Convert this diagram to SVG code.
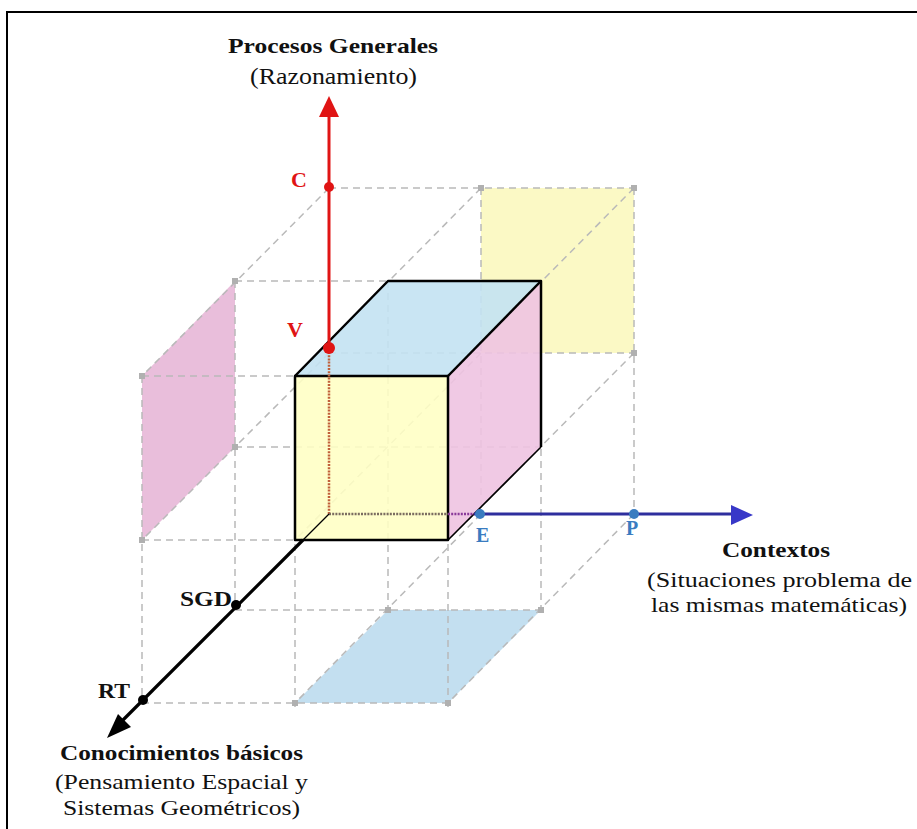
<svg xmlns="http://www.w3.org/2000/svg" width="917" height="829" viewBox="0 0 917 829">
<style>
.grid{stroke:#b9b9b9;stroke-width:1.5;stroke-dasharray:7 5;fill:none}
.corner{fill:#b0b0b0}
.edge{stroke:#000;stroke-width:2.5;fill:none;stroke-linejoin:round}
.lbl{font-family:"Liberation Serif","Times New Roman",serif;fill:#111}
.b{font-weight:bold}
.red{fill:#e01414}
.blu{fill:#3a7cc0}
</style>
<rect x="0" y="0" width="917" height="829" fill="#fff"/>
<rect x="7" y="12" width="930" height="840" fill="none" stroke="#000" stroke-width="2"/>

<g id="projections">
  <polygon id="proj-left" points="142,376 235,281 235,447 142,540" fill="#e8bbd9" fill-opacity="0.95"/>
  <polygon id="proj-back" points="481,188 634,188 634,353 481,353" fill="#fbf9c2" fill-opacity="0.95"/>
  <polygon id="proj-floor" points="295,703 388,610 541,610 448,703" fill="#bcdcee" fill-opacity="0.9"/>
</g>

<g id="grid">
  <line class="grid" x1="329" y1="188" x2="634" y2="188"/>
  <line class="grid" x1="329" y1="353" x2="634" y2="353"/>
  <line class="grid" x1="481" y1="188" x2="481" y2="514"/>
  <line class="grid" x1="634" y1="188" x2="634" y2="514"/>
  <line class="grid" x1="235" y1="281" x2="541" y2="281"/>
  <line class="grid" x1="235" y1="447" x2="541" y2="447"/>
  <line class="grid" x1="235" y1="610" x2="541" y2="610"/>
  <line class="grid" x1="235" y1="281" x2="235" y2="610"/>
  <line class="grid" x1="388" y1="281" x2="388" y2="610"/>
  <line class="grid" x1="541" y1="281" x2="541" y2="610"/>
  <line class="grid" x1="142" y1="376" x2="448" y2="376"/>
  <line class="grid" x1="142" y1="540" x2="448" y2="540"/>
  <line class="grid" x1="142" y1="703" x2="448" y2="703"/>
  <line class="grid" x1="142" y1="376" x2="142" y2="703"/>
  <line class="grid" x1="295" y1="376" x2="295" y2="712"/>
  <line class="grid" x1="448" y1="376" x2="448" y2="712"/>
  <line class="grid" x1="329" y1="188" x2="142" y2="376"/>
  <line class="grid" x1="481" y1="188" x2="295" y2="376"/>
  <line class="grid" x1="634" y1="188" x2="448" y2="376"/>
  <line class="grid" x1="329" y1="353" x2="142" y2="540"/>
  <line class="grid" x1="481" y1="353" x2="295" y2="540"/>
  <line class="grid" x1="634" y1="353" x2="448" y2="540"/>
  <line class="grid" x1="481" y1="514" x2="295" y2="703"/>
  <line class="grid" x1="634" y1="514" x2="448" y2="703"/>
  <rect class="corner" x="478" y="185" width="6" height="6"/>
  <rect class="corner" x="631" y="185" width="6" height="6"/>
  <rect class="corner" x="631" y="350" width="6" height="6"/>
  <rect class="corner" x="232" y="278" width="6" height="6"/>
  <rect class="corner" x="139" y="373" width="6" height="6"/>
  <rect class="corner" x="232" y="444" width="6" height="6"/>
  <rect class="corner" x="139" y="537" width="6" height="6"/>
  <rect class="corner" x="385" y="607" width="6" height="6"/>
  <rect class="corner" x="538" y="607" width="6" height="6"/>
  <rect class="corner" x="292" y="700" width="6" height="6"/>
  <rect class="corner" x="445" y="700" width="6" height="6"/>
</g>

<g id="cube">
  <polygon points="295,376 448,376 448,540 295,540" fill="#ffffc4" fill-opacity="0.88"/>
  <polygon points="295,376 388,281 541,281 448,376" fill="#c3e2f2" fill-opacity="0.9"/>
  <polygon points="448,376 541,281 541,447 448,540" fill="#eec3e1" fill-opacity="0.9"/>
  <rect class="edge" x="295" y="376" width="153" height="164"/>
  <polyline class="edge" points="295,376 388,281 541,281 541,447"/>
  <line class="edge" x1="448" y1="376" x2="541" y2="281"/>
  <line x1="541" y1="447" x2="448" y2="540" stroke="#000" stroke-width="1.6"/>
</g>

<g id="connectors">
  <line x1="329" y1="352" x2="329" y2="514" stroke="#c0603a" stroke-width="2.5" stroke-dasharray="2 1.2"/>
  <line x1="329" y1="514" x2="448" y2="514" stroke="#7a6c60" stroke-width="2.5" stroke-dasharray="2 1.2"/>
  <line x1="448" y1="514" x2="474" y2="514" stroke="#8a3a9a" stroke-width="2.5" stroke-dasharray="2 1.2"/>
  <line x1="329" y1="514" x2="303" y2="540" stroke="#000" stroke-width="1.3"/>
  <g id="axis-procesos">
    <line x1="329" y1="114" x2="329" y2="348" stroke="#e01414" stroke-width="3"/>
    <polygon points="329,96 319,117 339,117" fill="#e01414"/>
  </g>
  <g id="axis-contextos">
    <line x1="474" y1="514" x2="735" y2="514" stroke="#2e2e9e" stroke-width="3"/>
    <polygon points="753,515 731,505 731,525" fill="#3838c8"/>
  </g>
  <g id="axis-conocimientos">
    <line x1="303" y1="540" x2="118" y2="725" stroke="#000" stroke-width="3.2"/>
    <polygon points="107,738 131,727 118,714" fill="#000"/>
  </g>
</g>

<g id="points">
  <circle id="pt-C" cx="329" cy="187" r="5" fill="#e01414"/>
  <circle id="pt-V" cx="329" cy="348" r="6" fill="#e01414"/>
  <circle id="pt-E" cx="480" cy="514" r="5" fill="#3a7cc0"/>
  <circle id="pt-P" cx="634" cy="514" r="5" fill="#3a7cc0"/>
  <circle id="pt-SGD" cx="236" cy="605" r="5" fill="#000"/>
  <circle id="pt-RT" cx="143" cy="700" r="5" fill="#000"/>
</g>

<g id="labels">
  <text class="lbl b" x="228" y="53" font-size="21" textLength="210" lengthAdjust="spacingAndGlyphs">Procesos Generales</text>
  <text class="lbl" x="250" y="84" font-size="23" textLength="167" lengthAdjust="spacingAndGlyphs">(Razonamiento)</text>
  <text class="lbl b red" x="291" y="187" font-size="22">C</text>
  <text class="lbl b red" x="287" y="337" font-size="22">V</text>
  <text class="lbl b blu" x="476" y="542" font-size="20">E</text>
  <text class="lbl b blu" x="626" y="535" font-size="20">P</text>
  <text class="lbl b" x="722" y="557" font-size="21" textLength="108" lengthAdjust="spacingAndGlyphs">Contextos</text>
  <text class="lbl" x="647" y="587" font-size="22" textLength="265" lengthAdjust="spacingAndGlyphs">(Situaciones problema de</text>
  <text class="lbl" x="651" y="612" font-size="22" textLength="256" lengthAdjust="spacingAndGlyphs">las mismas matemáticas)</text>
  <text class="lbl b" x="180" y="606" font-size="20" textLength="52" lengthAdjust="spacingAndGlyphs">SGD</text>
  <text class="lbl b" x="98" y="698" font-size="20" textLength="32" lengthAdjust="spacingAndGlyphs">RT</text>
  <text class="lbl b" x="60" y="760" font-size="20" textLength="243" lengthAdjust="spacingAndGlyphs">Conocimientos básicos</text>
  <text class="lbl" x="55" y="789" font-size="22" textLength="253" lengthAdjust="spacingAndGlyphs">(Pensamiento Espacial y</text>
  <text class="lbl" x="63" y="815" font-size="22" textLength="237" lengthAdjust="spacingAndGlyphs">Sistemas Geométricos)</text>
</g>
</svg>
